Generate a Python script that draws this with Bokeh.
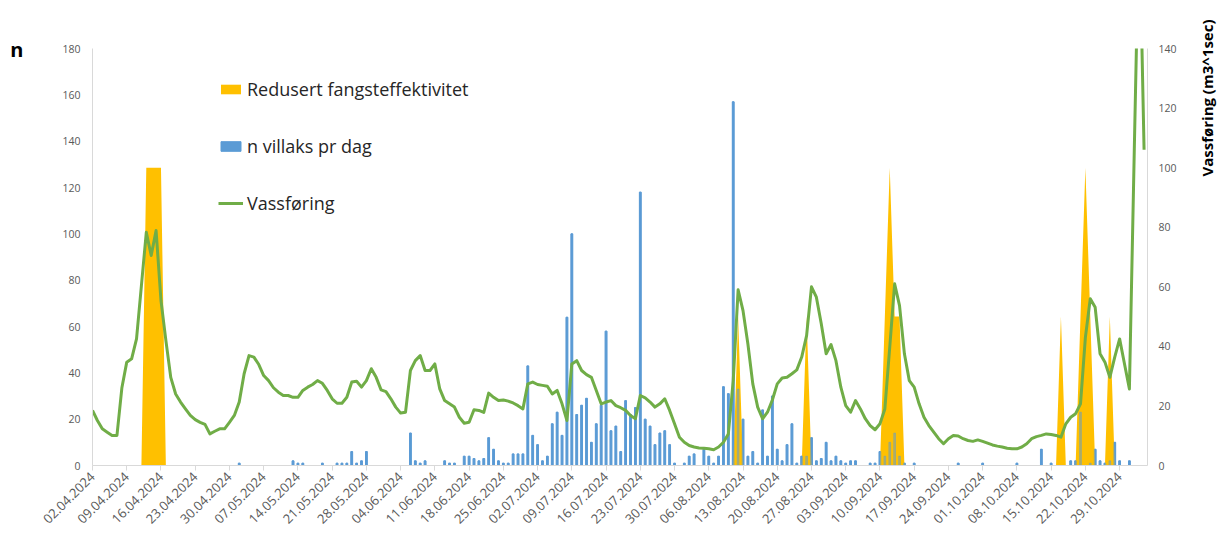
import pandas as pd
from math import pi
from bokeh.plotting import figure
from bokeh.models import (Range1d, LinearAxis, FixedTicker, Legend, LegendItem)
from bokeh.embed import file_html
from bokeh.resources import INLINE

# ---------------- data ----------------
start_date = "2024-04-02"
n_days = 216

# Vassføring (m3/s), one value per day from 02.04.2024
flow = [
    18.5, 15.1, 12.3, 11.2, 10.1, 10.1, 26.0, 34.7, 35.8, 42.5,
    60.4, 78.3, 70.5, 78.9, 55.4, 42.0, 29.6, 24.0, 21.3, 19.0,
    16.8, 15.4, 14.5, 13.8, 10.6, 11.5, 12.3, 12.3, 14.5, 16.8,
    21.3, 30.8, 36.9, 36.4, 33.9, 30.2, 28.5, 26.1, 24.6, 23.5,
    23.5, 22.9, 22.9, 25.2, 26.3, 27.2, 28.5, 27.6, 25.2, 22.4,
    20.9, 20.9, 22.9, 28.0, 28.3, 26.3, 28.5, 32.5, 29.6, 25.4,
    24.8, 22.4, 19.6, 17.6, 17.9, 31.9, 35.2, 36.9, 31.9, 31.9,
    34.1, 25.7, 21.8, 20.7, 19.6, 16.2, 14.2, 14.5, 18.7, 18.5,
    17.8, 24.3, 22.9, 21.8, 22.0, 21.6, 21.0, 20.1, 19.0, 27.4,
    28.0, 27.2, 26.9, 26.6, 24.0, 25.2, 20.7, 15.1, 34.1, 35.2,
    31.9, 30.5, 29.6, 25.2, 20.7, 21.3, 21.8, 20.1, 19.4, 18.5,
    16.8, 15.7, 23.5, 22.7, 21.3, 19.6, 20.7, 22.4, 18.5, 14.0,
    9.5, 7.8, 6.7, 6.2, 5.9, 5.8, 5.6, 5.3, 6.2, 7.8,
    10.6, 28.5, 59.0, 52.0, 40.8, 27.4, 19.6, 15.7, 17.9, 22.0,
    27.4, 29.4, 29.6, 30.8, 32.1, 36.4, 43.6, 60.0, 56.5, 47.6,
    37.5, 40.6, 35.2, 26.3, 20.1, 17.9, 21.8, 19.0, 15.7, 13.4,
    12.0, 14.0, 19.0, 39.7, 61.0, 53.7, 37.5, 28.5, 26.3, 20.7,
    16.2, 13.4, 11.2, 9.0, 7.3, 9.0, 10.1, 9.9, 9.0, 8.4,
    8.1, 8.6, 8.1, 7.5, 6.9, 6.5, 6.2, 5.8, 5.6, 5.6,
    6.2, 7.3, 9.0, 9.7, 10.1, 10.6, 10.4, 10.1, 9.5, 14.0,
    16.2, 17.4, 20.7, 43.0, 56.0, 53.1, 37.5, 34.7, 29.6, 36.4,
    42.5, 34.1, 25.7, 106.0, 185.0, 106.0,
]

# n villaks pr dag (day index from 02.04.2024, count)
fish_days = [
    30, 41, 42, 43, 47, 50, 51, 52, 53, 54, 55, 56, 65, 66, 67, 68, 72, 73, 74,
    76, 77, 78, 79, 80, 81, 82, 83, 84, 85, 86, 87, 88, 89, 90, 91, 92, 93, 94,
    95, 96, 97, 98, 99, 100, 101, 102, 103, 104, 105, 106, 107, 108, 109, 110,
    111, 112, 113, 114, 115, 116, 117, 118, 119, 121, 122, 123, 125, 126, 127,
    128, 129, 130, 131, 132, 133, 134, 135, 136, 137, 138, 139, 140, 141, 142,
    143, 144, 145, 146, 147, 148, 149, 150, 151, 152, 153, 154, 155, 156, 159,
    160, 161, 162, 163, 164, 165, 166, 168, 177, 182, 189, 194, 196, 200, 201,
    202, 204, 205, 206, 207, 208, 209, 210, 212,
]
fish_counts = [
    1, 2, 1, 1, 1, 1, 1, 1, 6, 1, 2, 6, 14, 2, 1, 2, 2, 1, 1,
    4, 4, 3, 2, 3, 12, 7, 2, 1, 1, 5, 5, 5, 43, 13, 9, 2, 4, 18,
    23, 13, 64, 100, 22, 26, 29, 10, 18, 26, 58, 15, 17, 6, 28, 22,
    25, 118, 20, 17, 9, 14, 15, 9, 1, 1, 4, 5, 7, 4, 1,
    4, 34, 31, 157, 33, 20, 4, 6, 1, 24, 4, 30, 7, 2, 9,
    18, 1, 4, 4, 12, 2, 3, 10, 2, 4, 2, 1, 2, 2, 1,
    1, 6, 4, 10, 14, 4, 1, 1, 1, 1, 1, 7, 1, 2, 2,
    23, 1, 7, 2, 1, 2, 10, 2, 2,
]

# Redusert fangsteffektivitet (day index, level on the right axis)
reduced_days = [11, 12, 13, 14, 132, 146, 162, 163, 164, 165, 198, 202, 203, 204, 208]
reduced_level = [100, 100, 100, 100, 50, 50, 50, 100, 50, 50, 50, 50, 100, 50, 50]

tick_days = list(range(0, 211, 7))
left_ticks = list(range(0, 181, 20))
right_ticks = list(range(0, 141, 20))
left_title = "n"
right_title = "Vassføring (m3^1sec)"

# ---------------- derived tables ----------------
days = list(range(n_days))
dates = pd.date_range(start_date, periods=n_days, freq="D")
tick_labels = {d: dates[d].strftime("%d.%m.%Y") for d in tick_days}
reduced = [0.0] * n_days
for d, v in zip(reduced_days, reduced_level):
    reduced[d] = v

# ---------------- figure ----------------
FONT = "Open Sans"
GREY = "#595959"
AXIS = "#D9D9D9"

p = figure(width=1230, height=534, x_range=Range1d(0, 215.7), y_range=Range1d(0, 180),
           output_backend="svg", toolbar_location=None,
           min_border_left=92, min_border_right=81, min_border_top=48, min_border_bottom=69)
p.extra_y_ranges = {"right": Range1d(0, 140)}
p.outline_line_color = None
p.xgrid.visible = False
p.ygrid.visible = False
p.background_fill_color = "white"
p.border_fill_color = "white"

r_bars = p.vbar(x=fish_days, top=fish_counts, width=0.36, color="#5B9BD5")
r_red = p.varea(x=days, y1=[0] * n_days, y2=reduced, fill_color="#FFC000",
                y_range_name="right")
p.vbar(x=fish_days, top=fish_counts, width=0.36, color="#5B9BD5", alpha=0.45)
r_flow = p.line(x=days, y=flow, line_color="#70AD47", line_width=3,
                line_join="round", y_range_name="right")

# x axis
xa = p.xaxis[0]
xa.ticker = FixedTicker(ticks=tick_days)
xa.major_label_overrides = tick_labels
xa.major_label_orientation = pi / 4
xa.major_label_text_font = FONT
xa.major_label_text_font_size = "13px"
xa.major_label_text_color = GREY
xa.axis_line_color = AXIS
xa.major_tick_line_color = AXIS
xa.major_tick_out = 5
xa.major_tick_in = 0
xa.minor_tick_line_color = None
xa.major_label_standoff = 4


def style_value_axis(ax, standoff):
    ax.major_label_text_font = FONT
    ax.major_label_text_font_size = "10.5px"
    ax.major_label_text_color = GREY
    ax.axis_line_color = AXIS
    ax.major_tick_line_color = None
    ax.minor_tick_line_color = None
    ax.major_tick_out = 0
    ax.major_tick_in = 0
    ax.major_label_standoff = standoff


# left y axis
ya = p.yaxis[0]
ya.ticker = FixedTicker(ticks=left_ticks)
style_value_axis(ya, 12)

# right y axis
ra = LinearAxis(y_range_name="right", ticker=FixedTicker(ticks=right_ticks))
style_value_axis(ra, 11)
p.add_layout(ra, "right")


def title_axis(ax, standoff, size):
    ax.axis_line_color = None
    ax.major_tick_line_color = None
    ax.minor_tick_line_color = None
    ax.major_tick_out = 0
    ax.major_tick_in = 0
    ax.major_label_standoff = standoff
    ax.major_label_text_font = FONT
    ax.major_label_text_font_size = size
    ax.major_label_text_font_style = "bold"
    ax.major_label_text_color = "black"


# "n" title at the top of the left axis
n_pos = 179.5
n_axis = LinearAxis(ticker=FixedTicker(ticks=[n_pos]),
                    major_label_overrides={n_pos: left_title})
title_axis(n_axis, 36, "20px")
p.add_layout(n_axis, "left")

# vertical title at the top of the right axis, reading bottom-to-top
t_pos = 97.0
t_axis = LinearAxis(y_range_name="right", ticker=FixedTicker(ticks=[t_pos]),
                    major_label_overrides={t_pos: right_title},
                    major_label_orientation=pi / 2)
title_axis(t_axis, 28, "15px")
p.add_layout(t_axis, "right")

# legend
legend = Legend(items=[
    LegendItem(label="Redusert fangsteffektivitet", renderers=[r_red]),
    LegendItem(label="n villaks pr dag", renderers=[r_bars]),
    LegendItem(label="Vassføring", renderers=[r_flow]),
], location=(126, 250))
legend.border_line_color = None
legend.background_fill_alpha = 0
legend.padding = 0
legend.margin = 0
legend.spacing = 33
legend.glyph_width = 25
legend.glyph_height = 12
legend.label_height = 22
legend.label_standoff = 4
legend.label_text_font = FONT
legend.label_text_font_size = "18px"
legend.label_text_color = "#262626"
p.add_layout(legend)

open("out.html", "w").write(file_html(p, INLINE))
